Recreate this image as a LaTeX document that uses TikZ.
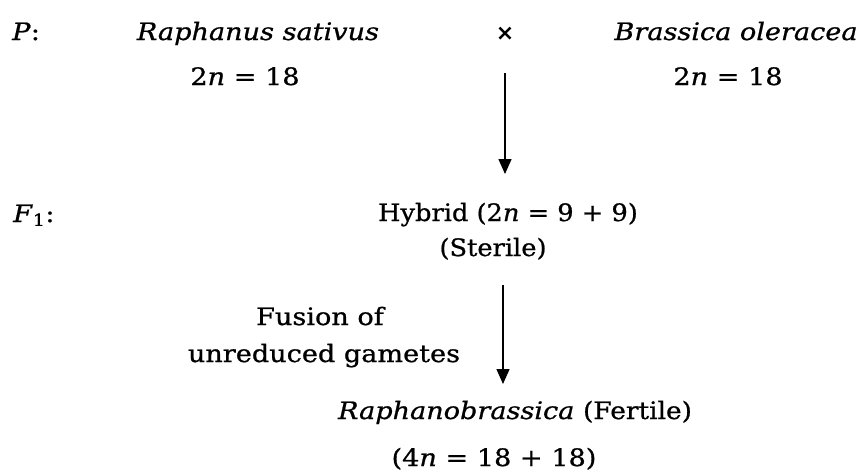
\documentclass[tikz,border=0pt]{standalone}
\usepackage{fontspec}
\setmainfont{DejaVu Serif}[FakeStretch=1.13,FakeBold=0.8]
\newfontfamily\narrowfont{DejaVu Serif}[FakeStretch=1.07,FakeBold=0.8]
\newfontfamily\crossfont{DejaVu Sans}
\usetikzlibrary{arrows.meta}
\tikzset{
  lbl/.style={anchor=base, inner sep=0pt, font=\fontsize{24}{28}\selectfont},
  nlbl/.style={anchor=base, inner sep=0pt, font=\narrowfont\fontsize{24}{28}\selectfont},
  gen/.style={anchor=base west, inner sep=0pt, font=\fontsize{24}{28}\selectfont},
  arr/.style={line width=1.5pt, -{Triangle[width=13pt,length=15pt]}}
}
\begin{document}
\begin{tikzpicture}[x=1pt,y=-1pt]
\useasboundingbox (0,0) rectangle (861,474);
\node[gen] (P) at (12,40) {\textit{P}:};
\node[lbl] (rs) at (258,40) {\textit{Raphanus sativus}};
\node[anchor=center, inner sep=0pt, font=\crossfont\bfseries\fontsize{22}{24}\selectfont] (cross) at (505,34) {×};
\node[lbl] (bo) at (736,40) {\textit{Brassica oleracea}};
\node[lbl] (rsn) at (245,85) {2\textit{n} = 18};
\node[lbl] (bon) at (728,85) {2\textit{n} = 18};
\coordinate (a1s) at (505,73);
\coordinate (a1e) at (505,174);
\draw[arr] (a1s) -- (a1e);
\node[gen] (F) at (13,222) {\textit{F}\textsubscript{1}:};
\node[nlbl] (hyb) at (508,221) {Hybrid (2\textit{n} = 9 + 9)};
\node[nlbl] (ster) at (493,256) {(Sterile)};
\coordinate (a2s) at (503,285);
\coordinate (a2e) at (503,384);
\draw[arr] (a2s) -- (a2e);
\node[lbl] (fus) at (320,325) {Fusion of};
\node[lbl] (unr) at (324,362) {unreduced gametes};
\node[lbl] (rb) at (515,419) {\textit{Raphanobrassica} {\addfontfeatures{FakeStretch=1.1}(Fertile)}};
\node[lbl] (fn) at (494,466) {(4\textit{n} = 18 + 18)};
\end{tikzpicture}
\end{document}
